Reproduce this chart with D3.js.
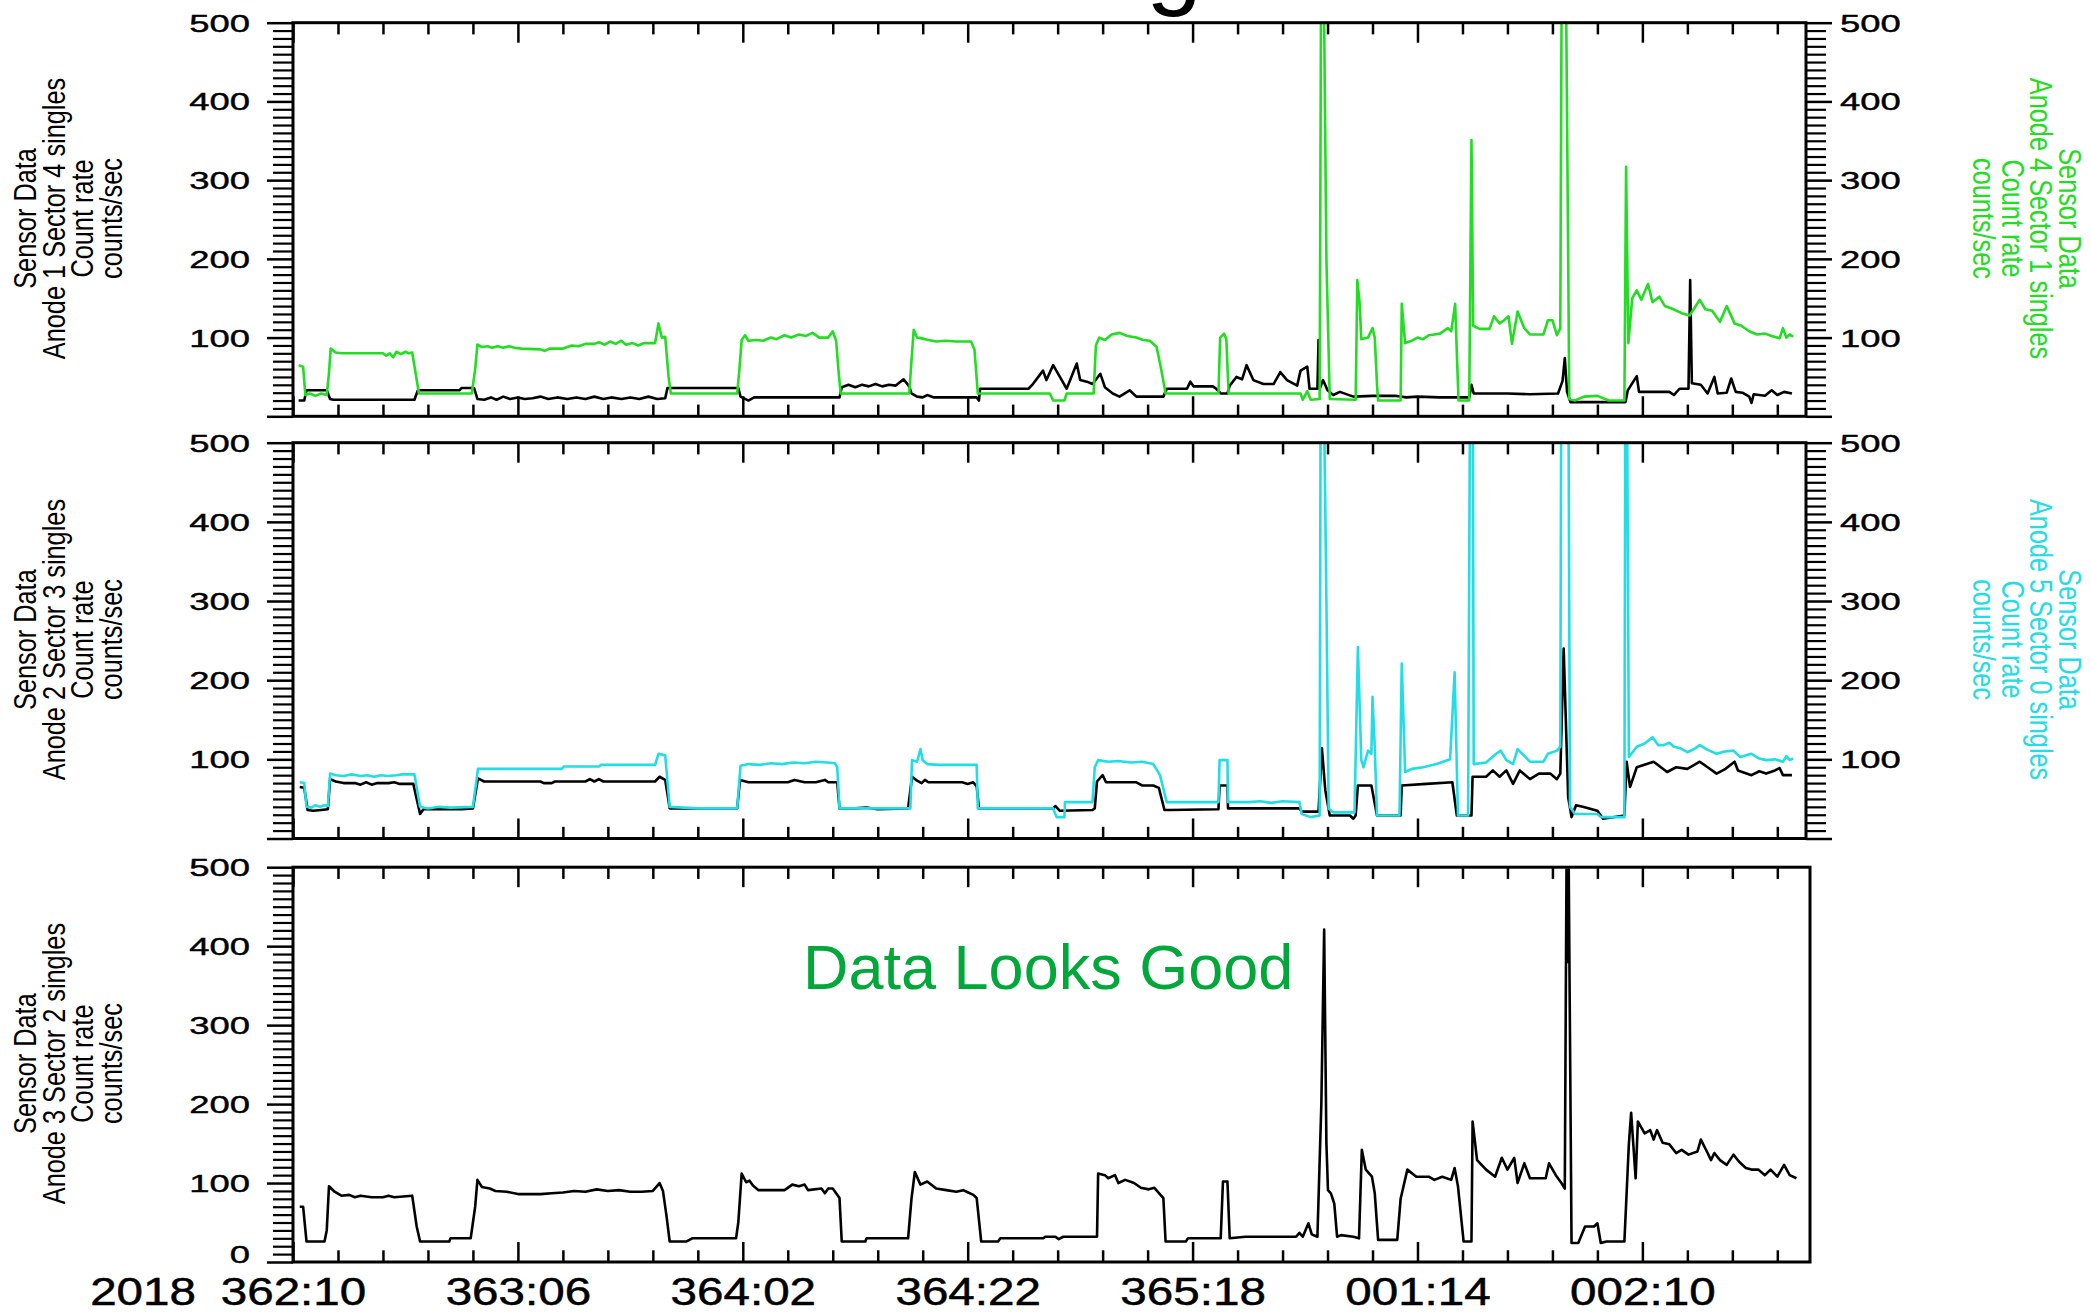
<!DOCTYPE html>
<html>
<head>
<meta charset="utf-8">
<script src="https://cdn.jsdelivr.net/npm/d3@7"></script>
<style>
  body { margin: 0; background: #fff; }
  text { font-family: "Liberation Sans", Arial, Helvetica, sans-serif; }
</style>
</head>
<body>
<svg id="chart" width="2091" height="1313"></svg>
<script>
// time is hours since 2018 362:10, values are counts/sec

// x axis
var xMaxHours = 134.55;
var majorHours = [0, 20, 40, 60, 80, 100, 120];
var dayLabels = ["362:10", "363:06", "364:02", "364:22", "365:18", "001:14", "002:10"];
var yearLabel = "2018";
var minorHours = d3.range(4, 134, 4).filter(function(h) { return h % 20 !== 0; });

// y axis
var yMajor = [0, 100, 200, 300, 400, 500];
var yMinor = d3.range(10, 500, 10).filter(function(v) { return v % 100 !== 0; });

// axis titles
var labelA1S4 = ["Sensor Data", "Anode 1 Sector 4 singles", "Count rate", "counts/sec"];
var labelA4S1 = ["Sensor Data", "Anode 4 Sector 1 singles", "Count rate", "counts/sec"];
var labelA2S3 = ["Sensor Data", "Anode 2 Sector 3 singles", "Count rate", "counts/sec"];
var labelA5S0 = ["Sensor Data", "Anode 5 Sector 0 singles", "Count rate", "counts/sec"];
var labelA3S2 = ["Sensor Data", "Anode 3 Sector 2 singles", "Count rate", "counts/sec"];
var titleText = "Data Monitoring";
var noteText = "Data Looks Good";

// panel 1 : Anode 4 Sector 1 (green)
var a4s1 = [[0.5,65],[0.9,63],[1.1,27],[1.5,29],[2.0,26],[2.5,29],[3.0,27],[3.2,55],[3.35,86],[3.8,81],[4.3,80],[6.0,80],[8.0,80],[8.3,77],[8.6,80],[8.9,75],[9.2,82],[9.6,79],[10.0,82],[10.3,80],[10.6,81],[10.9,55],[11.2,29],[14.0,29],[15.9,29],[16.2,60],[16.4,91],[16.8,88],[17.3,89],[17.7,87],[18.2,89],[18.7,87],[19.2,89],[19.7,87],[20.3,86],[22.0,85],[22.4,83],[22.8,86],[24.0,86],[24.8,90],[25.4,89],[26.0,92],[26.8,92],[27.2,94],[27.7,91],[28.2,95],[28.7,92],[29.2,96],[29.6,91],[30.2,93],[30.7,90],[31.2,93],[32.2,93],[32.5,118],[32.8,100],[33.1,101],[33.4,50],[33.6,29],[36.0,29],[39.5,29],
  [39.7,60],[39.9,97],[40.2,103],[40.5,96],[41.2,97],[41.8,96],[42.5,100],[43.0,98],[43.7,103],[44.3,100],[45.0,104],[45.6,102],[46.2,106],[46.8,100],[47.6,100],[48.0,108],[48.3,96],[48.5,60],[48.7,29],[52.0,29],[54.8,29],[55.0,70],[55.2,110],[55.5,100],[55.9,99],[56.5,97],[57.2,95],[58.0,96],[59.0,95],[60.3,95],[60.6,85],[60.9,29],[64.0,29],[67.3,29],[67.6,20],[68.6,20],[68.8,29],[71.2,29],[71.4,90],[71.7,100],[72.2,97],[72.8,104],[73.5,106],[74.2,102],[75.0,100],[75.6,97],[76.2,96],[76.8,88],[77.2,60],[77.6,29],[82.3,29],[82.45,100],[82.8,105],[83.0,98],[83.2,29],
  [89.6,29],[89.8,21],[90.2,32],[90.5,21],[91.3,22],[91.45,650],[91.6,650],[91.9,200],[92.2,22],[94.5,21],[94.65,173],[94.85,145],[95.0,98],[95.6,100],[96.0,112],[96.2,100],[96.4,40],[96.5,20],[98.5,20],[98.6,143],[98.9,93],[99.5,96],[100.0,100],[100.5,98],[101.0,103],[101.5,104],[102.0,105],[102.7,112],[103.0,108],[103.35,143],[103.5,80],[103.65,20],[104.6,20],[104.8,351],[104.95,115],[105.5,111],[106.4,111],[106.8,127],[107.3,118],[107.7,122],[108.1,127],[108.4,92],[108.9,133],[109.5,112],[110.0,104],[111.2,104],[111.6,122],[112.0,122],[112.4,103],[112.7,112],[112.85,650],[113.0,650],[113.15,650],[113.5,22],[114.0,20],[114.8,25],[116.0,26],[117.0,20],[118.4,20],
  [118.55,317],[118.75,93],[119.1,150],[119.5,160],[119.9,148],[120.5,168],[120.9,145],[121.5,152],[122.0,140],[122.6,137],[123.5,131],[124.2,128],[125.1,148],[125.6,136],[126.2,134],[126.9,120],[127.5,140],[128.2,118],[128.8,115],[129.5,108],[130.2,104],[130.9,105],[131.5,102],[132.2,99],[132.5,112],[132.8,100],[133.1,104],[133.4,101]];

// panel 1 : Anode 1 Sector 4 (black)
var a1s4 = [[0.5,20],[1.0,20],[1.2,33],[3.0,33],[3.3,22],[3.6,21],[10.8,21],[11.1,33],[14.8,33],[15.0,36],[16.1,36],[16.4,22],[17.0,21],[17.6,24],[18.1,21],[18.7,25],[19.3,22],[20.0,24],[20.6,22],[21.3,23],[22.0,25],[22.7,22],[23.5,24],[24.4,22],[25.2,24],[26.0,22],[26.8,25],[27.6,22],[28.3,24],[29.2,22],[30.0,24],[30.8,22],[31.6,25],[32.4,22],[33.1,23],[33.3,36],[36.0,36],[39.6,36],[39.8,25],[40.5,20],[41.0,24],[45.0,24],[48.6,24],
  [48.8,37],[49.4,40],[50.0,37],[50.6,40],[51.2,38],[51.8,41],[52.4,38],[53.0,40],[53.6,39],[54.3,47],[54.8,38],[55.0,29],[55.5,25],[56.0,24],[56.4,27],[57.0,24],[60.8,24],[61.0,20],[61.1,35],[65.4,35],[65.8,41],[66.7,58],[67.0,46],[67.6,65],[68.2,50],[68.8,35],[69.7,67],[70.0,46],[70.6,44],[71.1,41],[71.8,54],[72.2,37],[72.9,29],[73.5,25],[74.4,33],[75.0,25],[77.4,25],[77.7,35],[79.5,35],[79.8,44],[80.1,38],[81.8,38],[82.1,35],[82.5,29],[83.1,29],
  [83.3,39],[83.9,50],[84.4,47],[84.8,65],[85.4,46],[86.3,41],[87.2,41],[87.8,56],[88.4,46],[89.3,39],[89.6,58],[90.2,63],[90.4,35],[91.1,35],[91.2,97],[91.3,35],[91.6,46],[92.0,33],[92.5,27],[93.1,31],[94.3,25],[96.0,26],[98.0,26],[99.0,24],[100.0,25],[102.0,24],[104.6,24],[104.8,40],[105.0,29],[106.5,29],[108.0,29],[110.0,28],[112.5,29],[112.9,45],[113.1,74],[113.3,31],[113.6,18],[115.6,18],[118.5,18],[118.7,33],[119.5,51],[119.7,31],[122.4,31],[122.8,27],[123.3,35],[124.1,35],[124.25,173],[124.4,42],[125.2,40],[125.8,29],[126.4,50],[126.7,29],[127.5,30],[127.9,48],[128.3,31],[128.9,30],[129.5,25],[129.7,17],[129.9,28],[130.9,26],[131.5,33],[132.0,27],[132.6,31],[133.3,29]];

// panel 2 : Anode 5 Sector 0 (cyan)
var a5s0 = [[0.6,71],[1.0,70],[1.2,40],[1.6,39],[2.0,42],[2.4,40],[2.8,42],[3.1,41],[3.3,82],[3.8,80],[4.5,79],[5.2,81],[6.0,79],[6.6,80],[7.2,78],[7.8,80],[8.4,79],[9.2,80],[9.7,81],[10.8,81],[11.3,40],[12.0,38],[13.0,40],[14.0,39],[16.0,40],[16.45,88],[20.0,88],[23.9,88],[24.1,91],[27.2,91],[27.4,93],[30.0,93],[32.2,93],[32.5,107],[33.1,105],[33.5,40],[36.0,38],[39.5,38],
  [39.8,92],[40.5,94],[41.5,93],[42.5,95],[43.5,94],[44.5,96],[45.5,95],[46.5,97],[47.5,96],[48.2,95],[48.4,90],[48.6,38],[52.0,38],[54.9,38],[55.05,99],[55.5,97],[55.8,113],[56.0,99],[56.4,94],[57.5,93],[59.0,93],[60.8,93],[60.9,38],[64.0,38],[67.6,38],[67.9,27],[68.6,27],[68.65,46],[71.1,46],[71.3,90],[71.6,99],[72.5,97],[73.4,98],[74.5,96],[75.5,97],[76.5,94],[77.1,80],[77.7,46],[82.3,46],
  [82.4,99],[83.1,99],[83.15,46],[85.0,46],[86.0,47],[87.0,45],[88.0,47],[89.5,46],[89.7,31],[90.5,27],[91.3,29],[91.4,650],[91.6,650],[91.9,300],[92.1,38],[92.5,33],[94.4,33],[94.7,242],[95.0,99],[95.2,90],[95.6,111],[95.9,107],[96.0,179],[96.2,115],[96.4,29],[98.4,29],[98.6,221],[98.9,84],[99.5,88],[100.5,90],[101.7,94],[102.9,100],[103.3,210],[103.6,29],[104.5,29],[104.7,650],[104.9,650],[105.0,94],[106.1,96],[107.0,107],[107.4,111],[107.9,99],[108.5,94],[108.9,113],[110.0,97],[111.2,97],[111.6,107],[112.4,111],[112.7,116],[112.8,650],[113.0,650],[113.2,650],[113.4,650],[113.56,40],[114.0,31],[116.0,31],[116.3,27],[118.4,27],[118.5,650],[118.6,650],
  [118.8,103],[119.5,116],[120.2,120],[120.9,128],[121.4,118],[121.9,118],[122.4,121],[122.8,116],[123.4,114],[124.0,109],[124.6,113],[125.1,118],[125.8,112],[126.6,107],[127.3,110],[128.1,111],[128.7,103],[129.7,107],[130.4,101],[131.0,99],[131.8,100],[132.5,97],[132.8,104],[133.1,99],[133.4,101]];

// panel 2 : Anode 2 Sector 3 (black)
var a2s3 = [[0.6,65],[1.0,64],[1.3,36],[1.8,35],[2.5,36],[3.1,37],[3.3,75],[3.8,72],[4.5,70],[5.5,70],[6.0,68],[6.5,71],[7.0,68],[7.5,70],[8.5,70],[9.0,71],[9.5,69],[10.7,69],[11.0,50],[11.3,31],[11.6,37],[13.0,37],[15.0,37],[16.0,38],[16.45,76],[17.0,72],[20.0,72],[22.0,72],[22.3,70],[23.0,70],[23.3,72],[26.0,72],[26.4,75],[26.8,72],[27.2,75],[27.6,72],[30.0,72],[32.2,72],[32.6,78],[33.1,74],[33.5,38],[36.0,38],[39.5,38],
  [39.75,74],[40.5,71],[44.0,71],[44.6,74],[45.5,71],[46.5,71],[47.3,74],[47.6,71],[48.4,71],[48.6,38],[50.0,38],[51.0,39],[52.0,37],[54.7,38],[55.05,78],[55.5,73],[55.9,70],[56.2,74],[56.5,71],[58.0,71],[59.5,71],[60.0,69],[60.5,71],[60.8,66],[61.0,38],[67.6,38],[67.8,41],[68.2,35],[71.1,36],[71.3,38],[71.5,72],[72.0,80],[72.3,71],[75.0,71],[75.5,67],[76.5,67],[77.0,64],[77.5,36],[78.0,36],[82.3,37],
  [82.4,67],[83.1,67],[83.15,38],[89.5,38],[89.7,34],[91.2,34],[91.5,114],[91.8,61],[92.2,29],[94.0,29],[94.3,25],[94.5,29],[94.7,67],[95.9,67],[96.4,29],[98.5,29],[98.6,67],[100.8,69],[103.1,71],[103.5,29],[104.8,29],[104.9,78],[106.1,78],[106.7,86],[107.3,78],[107.9,86],[108.5,69],[109.1,86],[110.0,75],[110.8,82],[111.8,82],[112.4,75],[112.7,82],[113.0,240],[113.4,52],[113.7,27],[114.1,42],[114.7,40],[116.0,35],[116.5,25],[118.4,29],[118.6,97],[118.9,65],[119.5,90],[121.0,97],[122.2,84],[123.0,90],[124.0,88],[125.1,97],[125.8,90],[126.6,82],[127.4,88],[128.2,97],[128.5,86],[129.7,80],[130.4,85],[131.0,82],[131.8,86],[132.2,89],[132.5,80],[133.3,80]];

// panel 3 : Anode 3 Sector 2 (black)
var a3s2 = [[0.6,70],[0.9,70],[1.2,26],[2.8,26],[3.0,40],[3.2,96],[3.7,89],[4.3,84],[5.0,85],[5.5,82],[6.0,84],[7.0,82],[8.0,82],[8.5,84],[9.0,82],[10.6,84],[11.0,45],[11.3,26],[13.9,26],[14.0,30],[15.8,30],[16.2,70],[16.4,104],[16.8,95],[17.5,93],[18.0,90],[19.0,89],[20.0,86],[22.0,86],[23.0,87],[24.0,88],[25.0,90],[26.0,89],[27.0,92],[28.0,90],[29.0,91],[30.0,89],[31.0,89],[32.0,90],[32.6,100],[32.9,90],[33.2,60],[33.5,26],[35.0,26],[35.5,30],[39.4,30],
  [39.6,50],[39.9,112],[40.3,101],[40.6,103],[40.9,97],[41.4,91],[43.7,91],[43.9,93],[44.4,98],[45.0,96],[45.5,98],[45.8,91],[47.0,93],[47.3,87],[47.6,93],[48.0,93],[48.3,87],[48.6,81],[48.8,26],[50.9,26],[51.0,30],[54.7,30],[55.0,80],[55.3,114],[55.8,98],[56.4,102],[57.2,93],[58.1,91],[59.0,89],[59.6,91],[59.9,89],[60.5,85],[60.8,81],[61.2,26],[62.7,26],[62.9,30],[66.7,30],[66.9,32],[67.8,32],[68.1,29],[68.5,32],[71.5,32],[71.6,112],[72.2,110],[72.5,106],[73.1,110],[73.4,100],[74.0,104],[74.8,100],[75.4,94],[76.1,92],[76.6,94],[77.4,81],[77.6,26],[79.4,26],[79.6,30],[82.5,30],
  [82.7,102],[83.1,102],[83.3,30],[84.7,32],[89.2,32],[89.5,37],[89.8,32],[90.3,49],[90.6,35],[91.1,32],[91.45,200],[91.7,421],[91.9,150],[92.04,91],[92.3,87],[92.6,74],[92.85,32],[93.2,34],[94.3,32],[94.8,30],[95.05,142],[95.4,117],[95.95,108],[96.2,87],[96.5,28],[98.2,28],[98.5,80],[99.1,117],[99.9,108],[101.0,108],[101.5,104],[102.2,108],[103.0,104],[103.3,119],[103.6,96],[104.1,26],[104.8,26],[104.9,178],[105.3,129],[106.1,117],[106.9,108],[107.5,132],[108.0,117],[108.6,132],[108.9,100],[109.5,125],[110.0,106],[111.4,106],[111.7,125],[112.3,110],[112.8,100],[113.1,93],[113.25,497],[113.35,380],[113.45,497],[113.7,24],[114.3,24],[114.9,45],[115.7,45],[116.0,49],[116.3,24],[116.8,26],[118.4,26],
  [118.8,150],[119.0,189],[119.4,106],[119.6,178],[120.2,163],[120.7,167],[121.0,155],[121.3,167],[121.8,151],[122.4,149],[123.0,138],[123.5,142],[124.1,136],[124.9,140],[125.2,155],[125.8,138],[126.1,129],[126.4,138],[126.9,129],[127.5,123],[128.1,136],[128.6,127],[129.2,119],[129.7,117],[130.3,117],[130.9,110],[131.4,117],[132.0,108],[132.6,123],[133.1,110],[133.7,106]];

var GREEN = "#22dd22", CYAN = "#22dde6", NOTE = "#00a83a";
var LEFT = 293;
var tickSx = 1.55, xLabSx = 1.22, sideSx = 1.22;

var panels = [
  { top: 22.7, bottom: 416.3, right: 1806, rightAxis: true, zero: false, xLabels: false,
    left: labelA1S4, rightLab: labelA4S1, rightColor: GREEN,
    series: [{ data: a1s4, color: "#000" }, { data: a4s1, color: GREEN }] },
  { top: 442.7, bottom: 838.5, right: 1806, rightAxis: true, zero: false, xLabels: false,
    left: labelA2S3, rightLab: labelA5S0, rightColor: CYAN,
    series: [{ data: a2s3, color: "#000" }, { data: a5s0, color: CYAN }] },
  { top: 867.2, bottom: 1262, right: 1810, rightAxis: false, zero: true, xLabels: true,
    left: labelA3S2, rightLab: null, rightColor: null,
    series: [{ data: a3s2, color: "#000" }] }
];

var svg = d3.select("#chart");
svg.append("rect").attr("width", 2091).attr("height", 1313).attr("fill", "#fff");
var defs = svg.append("defs");

var x = d3.scaleLinear().domain([0, xMaxHours]).range([LEFT, 1806]);

function sideLabel(lines, bx, cy, dir, color) {
  var t = svg.append("g")
    .attr("transform", "translate(" + bx + "," + cy + ") scale(" + sideSx + ",1) rotate(" + (dir * 90) + ")");
  lines.forEach(function(s, j) {
    t.append("text")
      .attr("x", 0).attr("y", j * 23.5)
      .attr("text-anchor", "middle")
      .attr("fill", color)
      .style("font-size", "25.3px")
      .text(s);
  });
}

function styleAxis(a, w) {
  a.select(".domain").remove();
  a.selectAll("line").attr("stroke", "#000").attr("stroke-width", w);
  a.attr("font-family", null).attr("font-size", null);
}

panels.forEach(function(p, i) {
  var y = d3.scaleLinear().domain([0, 500]).range([p.bottom, p.top]);
  var g = svg.append("g");

  defs.append("clipPath").attr("id", "clip" + i)
    .append("rect")
    .attr("x", LEFT).attr("y", p.top)
    .attr("width", p.right - LEFT).attr("height", p.bottom - p.top);

  var line = d3.line().x(function(d) { return x(d[0]); }).y(function(d) { return y(d[1]); });

  p.series.forEach(function(s) {
    g.append("path")
      .datum(s.data)
      .attr("clip-path", "url(#clip" + i + ")")
      .attr("fill", "none")
      .attr("stroke", s.color)
      .attr("stroke-width", 2.6)
      .attr("stroke-linejoin", "round")
      .attr("d", line);
  });

  // frame
  g.append("rect")
    .attr("x", LEFT).attr("y", p.top)
    .attr("width", p.right - LEFT).attr("height", p.bottom - p.top)
    .attr("fill", "none").attr("stroke", "#000").attr("stroke-width", 3);

  // x ticks, pointing inward on top and bottom
  [[d3.axisTop, p.top], [d3.axisBottom, p.bottom]].forEach(function(ax) {
    var mi = g.append("g").attr("transform", "translate(0," + ax[1] + ")")
      .call(ax[0](x).tickValues(minorHours).tickSize(-11.7).tickSizeOuter(0).tickFormat(""));
    styleAxis(mi, 2.5);
    var ma = g.append("g").attr("transform", "translate(0," + ax[1] + ")")
      .call(ax[0](x).tickValues(majorHours).tickSize(-20).tickSizeOuter(0).tickFormat(""));
    styleAxis(ma, 2.5);
  });

  if (p.xLabels) {
    var lab = g.append("g").attr("transform", "translate(0," + p.bottom + ")")
      .call(d3.axisBottom(x).tickValues(majorHours).tickSize(0).tickSizeOuter(0)
        .tickFormat(function(d, k) { return dayLabels[k]; }));
    styleAxis(lab, 0);
    lab.selectAll("text")
      .attr("y", 43).attr("dy", 0)
      .attr("fill", "#000").attr("stroke", "#000").attr("stroke-width", 0.5)
      .attr("transform", "scale(" + xLabSx + ",1)")
      .style("font-size", "39px");
    g.append("text")
      .attr("transform", "translate(196," + (p.bottom + 43) + ") scale(" + xLabSx + ",1)")
      .attr("text-anchor", "end")
      .attr("stroke", "#000").attr("stroke-width", 0.5)
      .style("font-size", "39px")
      .text(yearLabel);
  }

  // y ticks, pointing outward
  var fmt = function(d) { return (d === 0 && !p.zero) ? "" : d; };
  var lMin = g.append("g").attr("transform", "translate(" + LEFT + ",0)")
    .call(d3.axisLeft(y).tickValues(yMinor).tickSize(20).tickSizeOuter(0).tickFormat(""));
  styleAxis(lMin, 2.2);
  var lMaj = g.append("g").attr("transform", "translate(" + LEFT + ",0)")
    .call(d3.axisLeft(y).tickValues(yMajor).tickSize(26).tickSizeOuter(0).tickFormat(fmt));
  styleAxis(lMaj, 2.5);
  lMaj.selectAll("text")
    .attr("x", -43 / tickSx)
    .attr("dy", function(d) { return d === 0 ? "0em" : "0.36em"; })
    .attr("fill", "#000").attr("stroke", "#000").attr("stroke-width", 0.4)
    .attr("transform", "scale(" + tickSx + ",1)")
    .style("font-size", "23.5px");

  if (p.rightAxis) {
    var rMin = g.append("g").attr("transform", "translate(" + p.right + ",0)")
      .call(d3.axisRight(y).tickValues(yMinor).tickSize(20).tickSizeOuter(0).tickFormat(""));
    styleAxis(rMin, 2.2);
    var rMaj = g.append("g").attr("transform", "translate(" + p.right + ",0)")
      .call(d3.axisRight(y).tickValues(yMajor).tickSize(26).tickSizeOuter(0).tickFormat(fmt));
    styleAxis(rMaj, 2.5);
    rMaj.selectAll("text")
      .attr("x", 34 / tickSx).attr("dy", "0.36em")
      .attr("fill", "#000").attr("stroke", "#000").attr("stroke-width", 0.4)
      .attr("transform", "scale(" + tickSx + ",1)")
      .style("font-size", "23.5px");
  }

  var cy = (p.top + p.bottom) / 2 - 1;
  sideLabel(p.left, 36, cy, -1, "#000");
  if (p.rightLab) sideLabel(p.rightLab, 2059, cy, 1, p.rightColor);
});

// title (cut by the top edge, as in the source) and annotation
svg.append("text")
  .attr("x", 1202).attr("y", -4)
  .attr("text-anchor", "end")
  .style("font-size", "100px")
  .text(titleText);

svg.append("text")
  .attr("x", 803).attr("y", 989)
  .attr("fill", NOTE)
  .style("font-size", "63px")
  .text(noteText);
</script>
</body>
</html>
